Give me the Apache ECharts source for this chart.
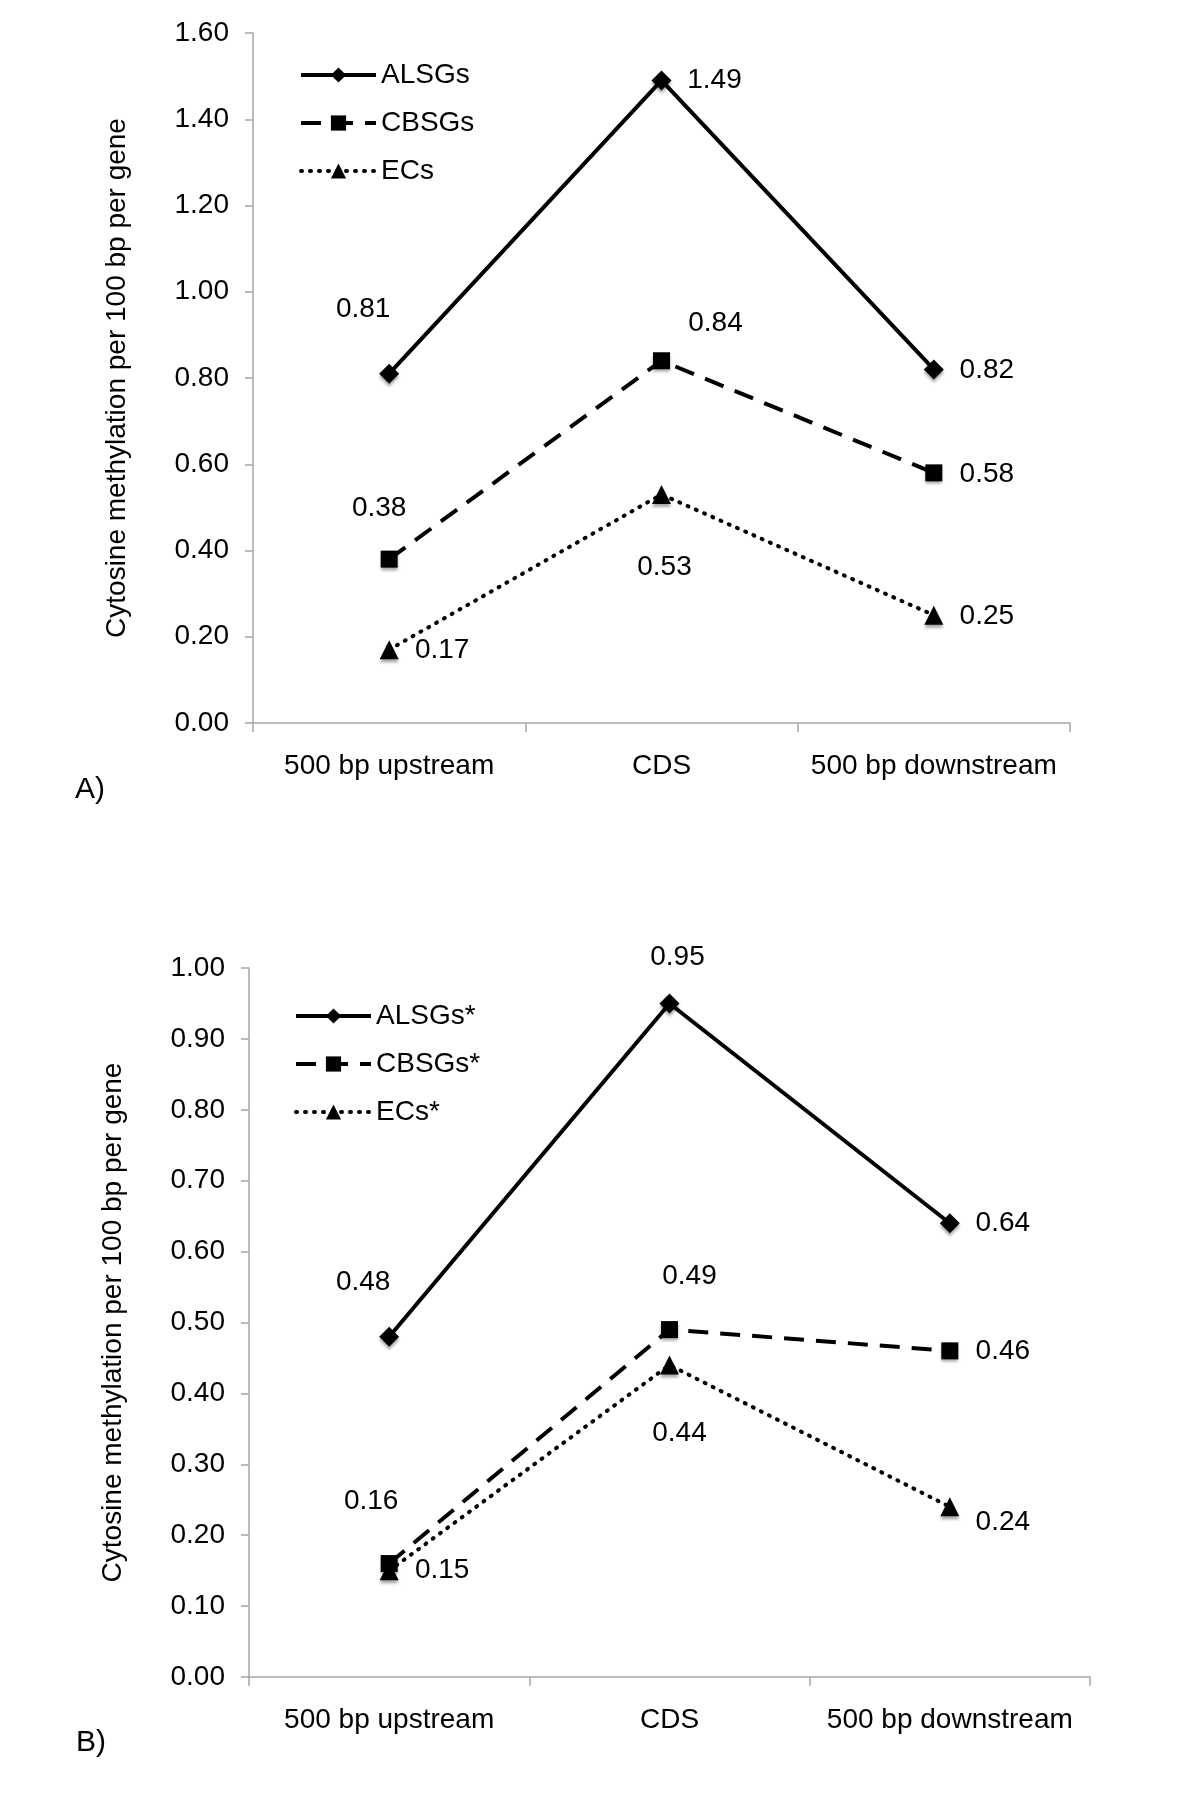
<!DOCTYPE html>
<html>
<head>
<meta charset="utf-8">
<script src="https://cdn.jsdelivr.net/npm/echarts@6/dist/echarts.min.js"></script>
<style>
  html, body { margin: 0; padding: 0; background: #fff; }
  #chart { width: 1200px; height: 1802px; }
</style>
</head>
<body>
<div id="chart"></div>
<script>
// categories
var regions = ['500 bp upstream', 'CDS', '500 bp downstream'];

// panel A
var alsgs = [0.81, 1.49, 0.82];
var cbsgs = [0.38, 0.84, 0.58];
var ecs = [0.17, 0.53, 0.25];
var ticksA = ['0.00', '0.20', '0.40', '0.60', '0.80', '1.00', '1.20', '1.40', '1.60'];

// panel B (starred sets)
var alsgsB = [0.48, 0.95, 0.64];
var cbsgsB = [0.16, 0.49, 0.46];
var ecsB = [0.15, 0.44, 0.24];
var ticksB = ['0.00', '0.10', '0.20', '0.30', '0.40', '0.50', '0.60', '0.70', '0.80', '0.90', '1.00'];

var yTitle = 'Cytosine methylation per 100 bp per gene';
var FONT = '"Liberation Sans", Arial, sans-serif';

// label offsets (px) from each point, per series
var offA = {
  als: [[-26, -64], [53, 0], [53, 1]],
  cbs: [[-10, -51], [54, -37], [53, 1]],
  ecs: [[53, 1], [3, 73], [53, 1]]
};
var offB = {
  als: [[-26, -54], [8, -46], [53, 0]],
  cbs: [[-18, -62], [20, -53], [53, 0]],
  ecs: [[53, 0], [10, 68], [53, 15]]
};

var lineStyles = {
  solid: { type: 'solid', width: 4 },
  dash: { type: [20, 12], width: 4 },
  dot: { type: [1, 8], width: 4, cap: 'round' }
};

function makeSeries(name, values, symbol, size, style, offsets, idx) {
  return {
    name: name,
    type: 'line',
    xAxisIndex: idx,
    yAxisIndex: idx,
    data: values.map(function (v, i) {
      return {
        value: v,
        label: { offset: offsets[i] }
      };
    }),
    symbol: symbol,
    symbolSize: size,
    lineStyle: Object.assign({ color: '#000' }, style),
    itemStyle: {
      color: '#000',
      shadowColor: 'rgba(0,0,0,0.35)',
      shadowBlur: 3,
      shadowOffsetY: 3
    },
    label: {
      show: true,
      position: 'inside',
      align: 'center',
      verticalAlign: 'middle',
      color: '#000',
      fontSize: 28,
      fontFamily: FONT,
      formatter: function (p) { return p.value.toFixed(2); }
    },
    emphasis: { disabled: true },
    z: 3
  };
}

function yAxisCfg(idx, max, step, ticks) {
  return {
    type: 'value',
    gridIndex: idx,
    min: 0,
    max: max,
    interval: step,
    name: yTitle,
    nameLocation: 'middle',
    nameRotate: 90,
    nameGap: 122,
    nameTextStyle: { fontSize: 28, fontFamily: FONT, color: '#000' },
    axisLine: { show: true, lineStyle: { color: '#a6a6a6', width: 1.5 } },
    axisTick: { show: true, length: 8, lineStyle: { color: '#a6a6a6', width: 1.5 } },
    axisLabel: {
      margin: 24,
      fontSize: 28,
      fontFamily: FONT,
      color: '#000',
      formatter: function (v) { return ticks[Math.round(v / step)]; }
    },
    splitLine: { show: false }
  };
}

function xAxisCfg(idx) {
  return {
    type: 'category',
    gridIndex: idx,
    data: regions,
    boundaryGap: true,
    axisLine: { lineStyle: { color: '#a6a6a6', width: 1.5 } },
    axisTick: { show: true, interval: 0, length: 9, lineStyle: { color: '#a6a6a6', width: 1.5 } },
    axisLabel: { interval: 0, margin: 29, fontSize: 28, fontFamily: FONT, color: '#000' }
  };
}

function legendCfg(names, left, top) {
  return {
    orient: 'vertical',
    left: left,
    top: top,
    itemWidth: 75,
    itemHeight: 19,
    itemGap: 16,
    data: names,
    selectedMode: false,
    lineStyle: { width: 4 },
    textStyle: { fontSize: 28, fontFamily: FONT, color: '#000', lineHeight: 32 }
  };
}

var chart = echarts.init(document.getElementById('chart'), null, { renderer: 'canvas' });

var option = {
  backgroundColor: '#fff',
  animation: false,
  grid: [
    { left: 253, right: 130, top: 33, height: 690 },
    { left: 249, right: 110, top: 968, height: 709 }
  ],
  xAxis: [xAxisCfg(0), xAxisCfg(1)],
  yAxis: [yAxisCfg(0, 1.6, 0.2, ticksA), yAxisCfg(1, 1.0, 0.1, ticksB)],
  legend: [
    legendCfg(['ALSGs', 'CBSGs', 'ECs'], 294, 54),
    legendCfg(['ALSGs*', 'CBSGs*', 'ECs*'], 289, 995)
  ],
  graphic: [
    { type: 'text', left: 75, top: 775, style: { text: 'A)', fontSize: 30, fontFamily: FONT, fill: '#000' } },
    { type: 'text', left: 76, top: 1728, style: { text: 'B)', fontSize: 30, fontFamily: FONT, fill: '#000' } }
  ],
  series: [
    makeSeries('ALSGs', alsgs, 'diamond', 20, lineStyles.solid, offA.als, 0),
    makeSeries('CBSGs', cbsgs, 'rect', 17, lineStyles.dash, offA.cbs, 0),
    makeSeries('ECs', ecs, 'triangle', 19, lineStyles.dot, offA.ecs, 0),
    makeSeries('ALSGs*', alsgsB, 'diamond', 20, lineStyles.solid, offB.als, 1),
    makeSeries('CBSGs*', cbsgsB, 'rect', 17, lineStyles.dash, offB.cbs, 1),
    makeSeries('ECs*', ecsB, 'triangle', 19, lineStyles.dot, offB.ecs, 1)
  ]
};

chart.setOption(option);
</script>
</body>
</html>
